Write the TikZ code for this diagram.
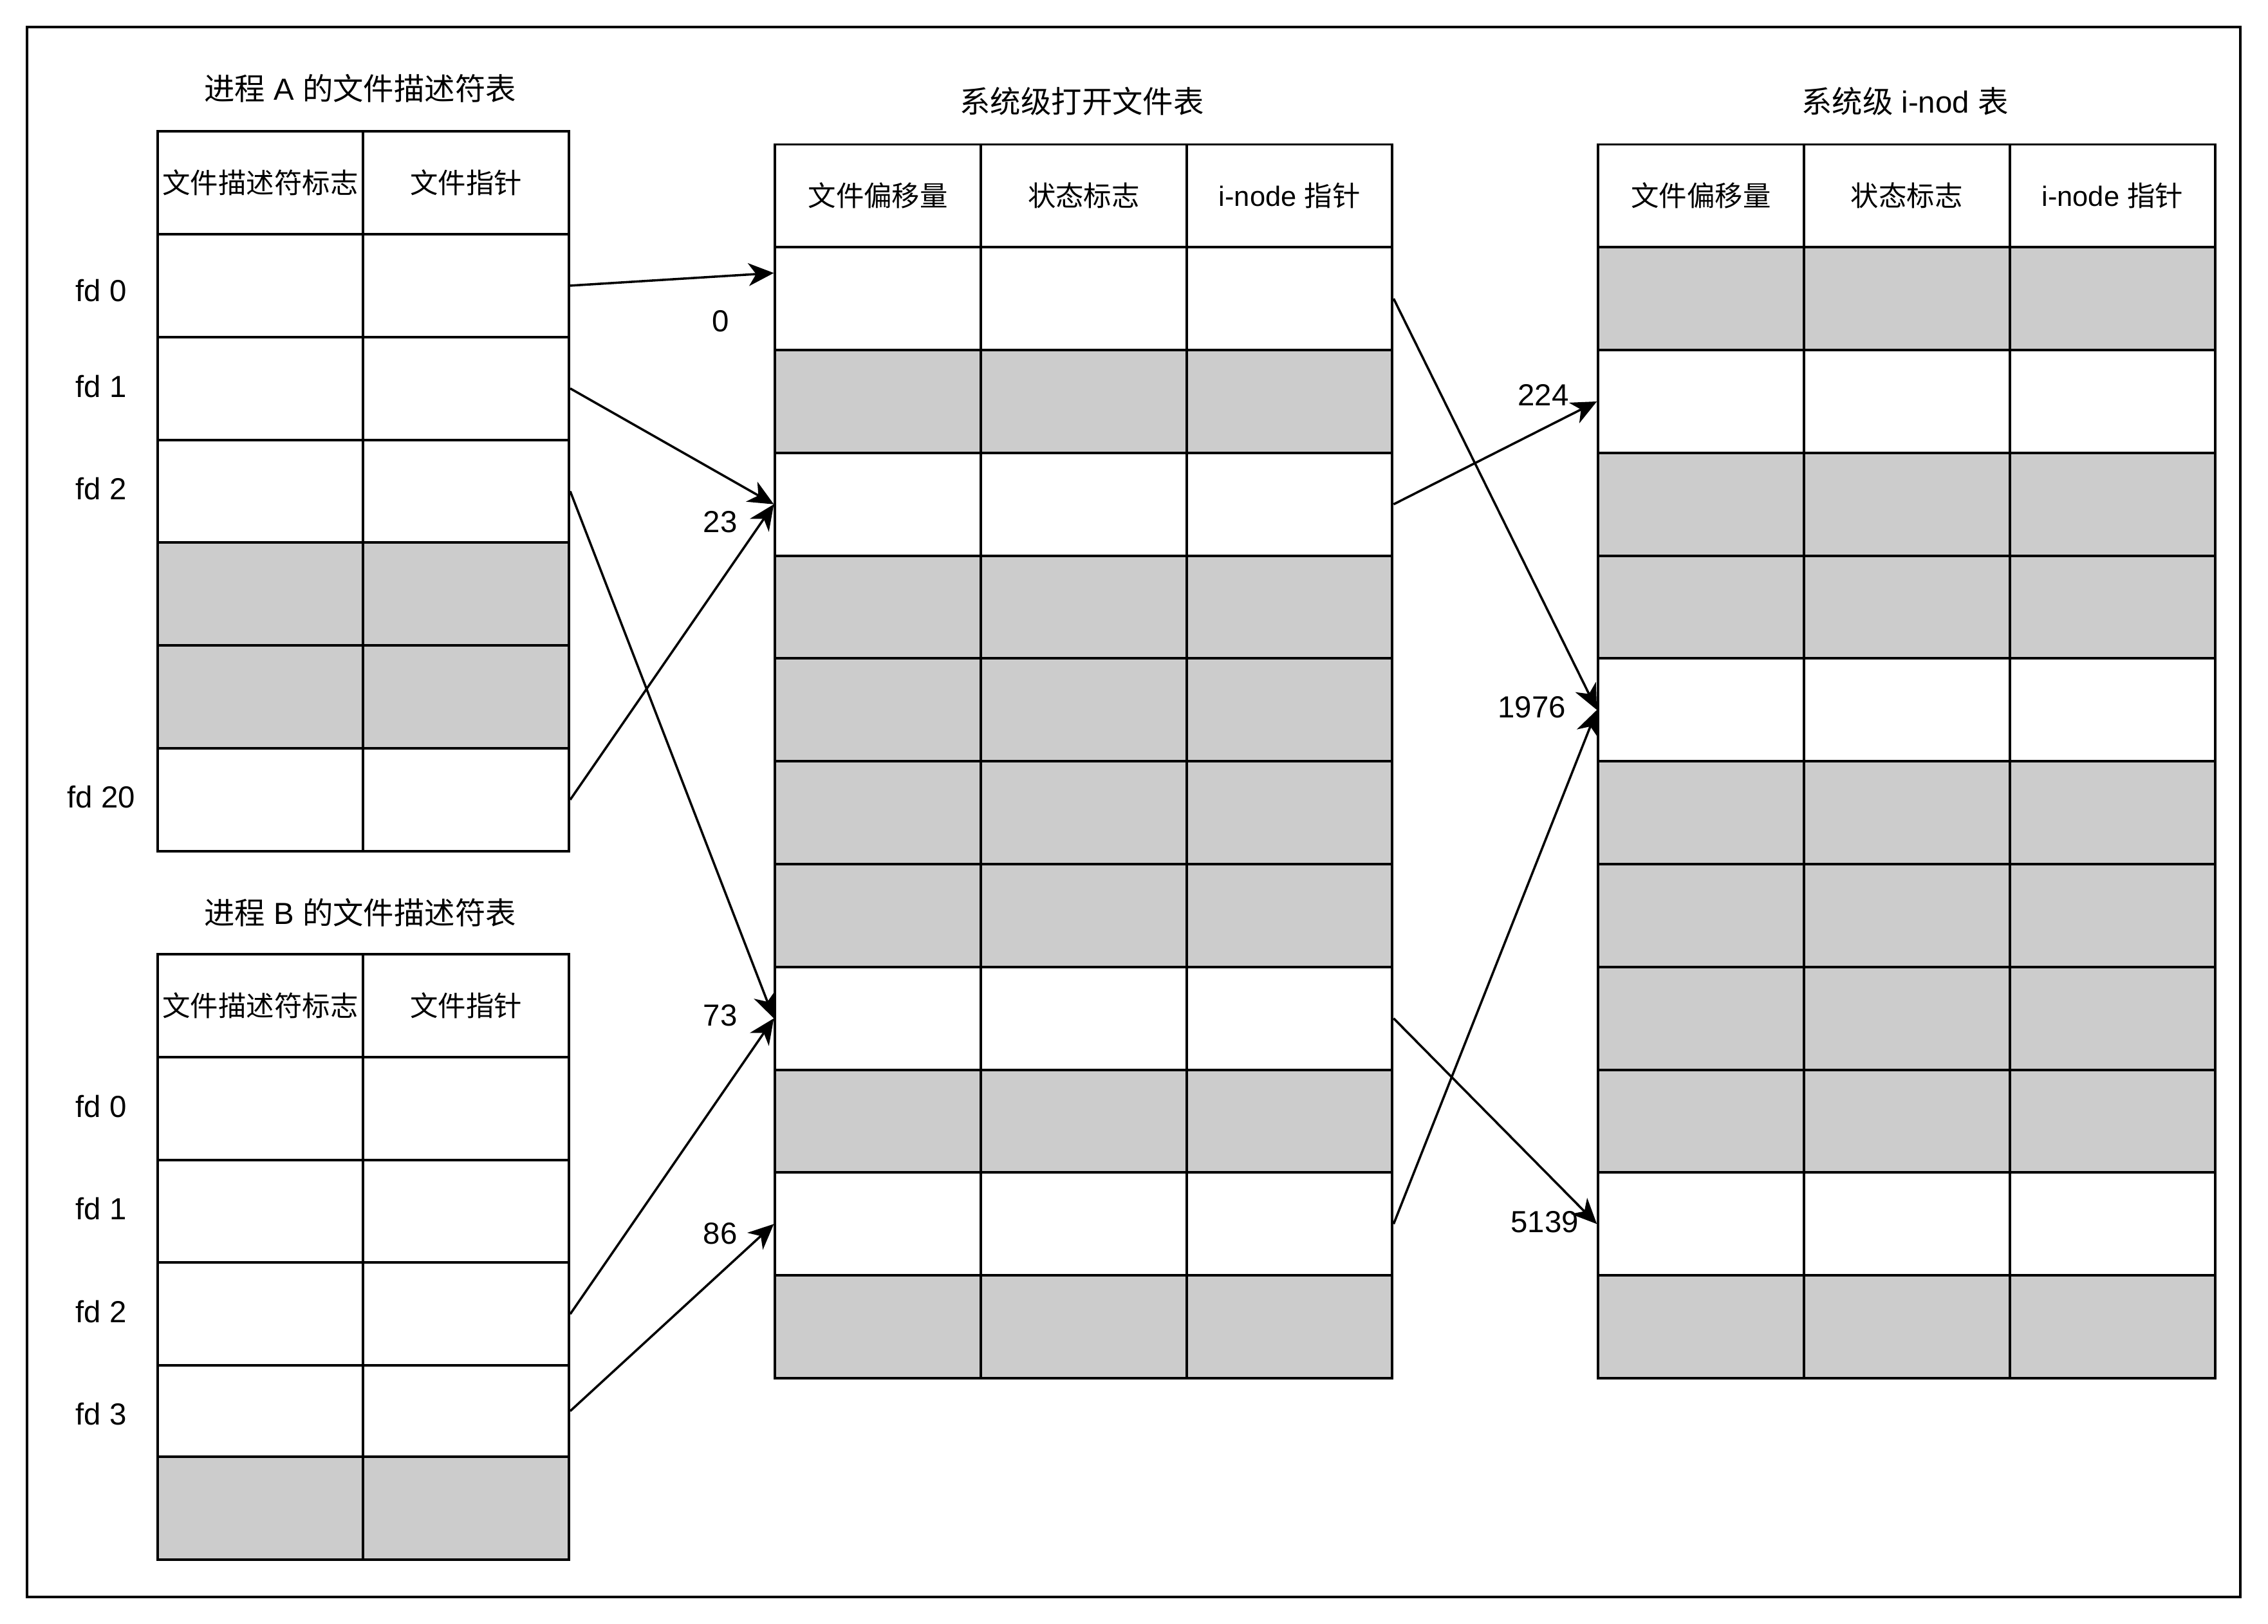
\documentclass[tikz,border=0pt]{standalone}
\usepackage{fontspec}
\setmainfont{Liberation Sans}
\newfontfamily\cjk{Noto Sans CJK SC}
\usetikzlibrary{arrows.meta,positioning}
\definecolor{cellGray}{HTML}{CCCCCC}

\begin{document}
\begin{tikzpicture}[x=.02cm,y=-.02cm,
    cell/.style={draw,line width=1pt,inner sep=0pt,anchor=north west,
      minimum width=2.845cm,minimum height=1.422cm,font=\fontsize{11}{13}\selectfont},
    used/.style={cell,fill=white},
    free/.style={cell,fill=cellGray},
    title/.style={font=\fontsize{12}{14}\selectfont},
    lbl/.style={font=\fontsize{12}{14}\selectfont},
    link/.style={line width=.9pt,-{Stealth[length=10pt,width=9pt,inset=3pt]}}]
  \useasboundingbox (0,0) rectangle (1568,1123);
  \draw[line width=1pt] (18.7,18.7) rectangle (1549,1104.4);

  % process A
  \node[title] (ttlA) at (249,61) {{\cjk 进程} A {\cjk 的文件描述符表}};
  \node[cell] (pa-0-1) at (108,90) {\cjk 文件描述符标志};
  \node[cell] (pa-0-2) at (250.25,90) {\cjk 文件指针};
  \foreach \r/\k in {1/used,2/used,3/used,4/free,5/free,6/used}
    \foreach \c in {1,2}
      \node[\k] (pa-\r-\c) at ({108+142.25*(\c-1)},{90+71.1*\r}) {};
  \foreach \t/\y [count=\i] in {fd 0/201,fd 1/267,fd 2/338,fd 20/551}
    \node[lbl] (fdA\i) at (70,\y) {\t};

  % process B
  \node[title] (ttlB) at (249,631) {{\cjk 进程} B {\cjk 的文件描述符表}};
  \node[cell] (pb-0-1) at (108,659) {\cjk 文件描述符标志};
  \node[cell] (pb-0-2) at (250.25,659) {\cjk 文件指针};
  \foreach \r in {1,2,3}
    \foreach \c in {1,2}
      \node[used] (pb-\r-\c) at ({108+142.25*(\c-1)},{659+71.1*\r}) {};
  \foreach \c in {1,2}{
    \node[used,minimum height=1.26cm] (pb-4-\c) at ({108+142.25*(\c-1)},943.4) {};
    \node[free] (pb-5-\c) at ({108+142.25*(\c-1)},1006.4) {};
  }
  \foreach \t/\y [count=\i] in {fd 0/765,fd 1/836,fd 2/907,fd 3/978}
    \node[lbl] (fdB\i) at (70,\y) {\t};

  % open file table
  \node[title] (ttlF) at (748,70) {\cjk 系统级打开文件表};
  \foreach \h [count=\c] in {{\cjk 文件偏移量},{\cjk 状态标志},{i-node {\cjk 指针}}}
    \node[cell] (of-0-\c) at ({535+142.25*(\c-1)},99) {\h};
  \foreach \r/\k in {1/used,2/free,3/used,4/free,5/free,6/free,7/free,8/used,9/free,10/used,11/free}
    \foreach \c in {1,2,3}
      \node[\k] (of-\r-\c) at ({535+142.25*(\c-1)},{99+71.1*\r}) {};

  % i-node table
  \node[title] (ttlI) at (1317,70) {{\cjk 系统级} i-nod {\cjk 表}};
  \foreach \h [count=\c] in {{\cjk 文件偏移量},{\cjk 状态标志},{i-node {\cjk 指针}}}
    \node[cell] (in-0-\c) at ({1104+142.25*(\c-1)},99) {\h};
  \foreach \r/\k in {1/free,2/used,3/free,4/free,5/used,6/free,7/free,8/free,9/free,10/used,11/free}
    \foreach \c in {1,2,3}
      \node[\k] (in-\r-\c) at ({1104+142.25*(\c-1)},{99+71.1*\r}) {};

  % offsets
  \node[lbl] (off0) at (498,222) {0};
  \node[lbl] (off23) at (498,361) {23};
  \node[lbl] (off73) at (498,702) {73};
  \node[lbl] (off86) at (498,853) {86};
  \node[lbl] (ino224) at (1067,273) {224};
  \node[lbl] (ino1976) at (1059,489) {1976};
  \node[lbl] (ino5139) at (1068,845) {5139};

  % pointers
  \draw[link] (pa-1-2.east) -- ([yshift=.355cm]of-1-1.west);
  \draw[link] (pa-2-2.east) -- (of-3-1.west);
  \draw[link] (pa-3-2.east) -- (of-8-1.west);
  \draw[link] (pa-6-2.east) -- (of-3-1.west);
  \draw[link] (pb-3-2.east) -- (of-8-1.west);
  \draw[link] (pb-4-2.east) -- (of-10-1.west);
  \draw[link] (of-1-3.east) -- (in-5-1.west);
  \draw[link] (of-3-3.east) -- (in-2-1.west);
  \draw[link] (of-8-3.east) -- (in-10-1.west);
  \draw[link] (of-10-3.east) -- (in-5-1.west);
\end{tikzpicture}
\end{document}
